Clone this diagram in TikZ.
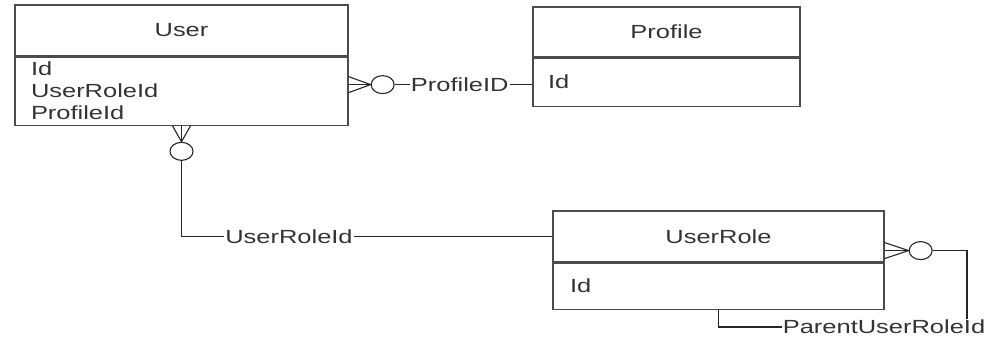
\documentclass[tikz,border=0pt]{standalone}
\usepackage{fontspec}
\newfontfamily\erfont[FakeStretch=1.34]{Liberation Sans}
\usetikzlibrary{positioning, calc, shapes.geometric}

\begin{document}
\begin{tikzpicture}[
    x=1pt, y=-1pt,
    every node/.style={font=\erfont\fontsize{19}{22}\selectfont, text=black!80},
    head/.style={draw=black!70, line width=1.2pt, rectangle, inner sep=0pt},
    body/.style={draw=black!70, line width=1.2pt, rectangle, align=left, inner ysep=0pt},
    lbl/.style={inner xsep=1pt, inner ysep=1pt},
    zero/.style={draw=black!85, line width=1.1pt, ellipse, inner sep=0pt, minimum width=23pt, minimum height=18pt},
    conn/.style={line width=1.1pt, draw=black!85}
]
    \useasboundingbox (0,0) rectangle (1000,338);

    % entities
    \node[head, minimum width=333pt, minimum height=51pt] (user) at (181.5,30.5) {User};
    \node[body, below=0pt of user, minimum width=333pt, minimum height=68pt, text width=301pt, inner xsep=16pt] (userb) {Id\\UserRoleId\\ProfileId};
    \node[head, minimum width=267pt, minimum height=50pt] (prof) at (666.5,32) {Profile};
    \node[body, below=0pt of prof, minimum width=267pt, minimum height=48pt, text width=237pt, inner xsep=15pt] (profb) {Id};
    \node[head, minimum width=331pt, minimum height=51pt] (role) at (718.5,236.5) {UserRole};
    \node[body, below=0pt of role, minimum width=331pt, minimum height=46pt, text width=297pt, inner xsep=17pt] (roleb) {Id};

    % User -> Profile
    \coordinate (u1) at ($(userb.north east)+(0,28)$);
    \node[zero, right=22pt of u1] (o1) {};
    \foreach \dy in {-8,0,8} \draw[conn] (o1.west) -- ($(u1)+(0,\dy)$);
    \node[lbl, right=15pt of o1] (lp) {ProfileID};
    \draw[conn] (o1.east) -- (lp.west);
    \draw[conn] (lp.east) -- (lp.east -| prof.west);

    % User -> UserRole
    \coordinate (u2) at (userb.south);
    \node[zero, below=16pt of u2] (o2) {};
    \foreach \dx in {-9,0,9} \draw[conn] (o2.north) -- ($(u2)+(\dx,0)$);
    \node[lbl] (lu) at (289,236.5) {UserRoleId};
    \draw[conn] (o2.south) |- (lu.west);
    \draw[conn] (lu.east) -- (role.west);

    % UserRole -> UserRole
    \coordinate (r1) at ($(role.south east)+(0,-12)$);
    \node[zero, right=24pt of r1] (o3) {};
    \foreach \dy in {-8,0,8} \draw[conn] (o3.west) -- ($(r1)+(0,\dy)$);
    \coordinate (k) at (967,327);
    \coordinate (r2) at ($(roleb.south west)+(166,0)$);
    \draw[conn] (o3.east) -| (k) -| (r2);
    \node[lbl, fill=white] (pl) at (884,327) {ParentUserRoleId};
\end{tikzpicture}
\end{document}
